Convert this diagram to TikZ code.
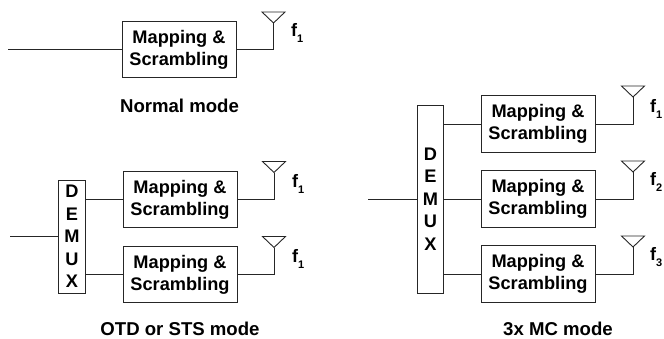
\documentclass[tikz,border=0pt]{standalone}
\usepackage{fontspec}
\setmainfont{Liberation Sans}
\newcommand{\antennaat}[1]{\draw[wire] (#1) -- ++(-11.5,-11) -- ++(23,0) -- cycle;}
\newcommand{\fsub}[1]{f\raisebox{-6pt}{\fontsize{11}{11}\selectfont #1}}
\begin{document}
\begin{tikzpicture}[x=1pt,y=-1pt,
  wire/.style={draw=black!85,line width=0.9pt},
  mapbox/.style={draw=black!85,line width=1pt,fill=white,minimum width=114pt,minimum height=56.5pt,inner sep=0pt,align=center,font=\fontsize{18.2}{22}\selectfont\bfseries},
  demuxbox/.style={draw=black!85,line width=1pt,fill=white,minimum width=26.5pt,inner sep=0pt,align=center,font=\fontsize{18.2}{22.4}\selectfont\bfseries},
  caption/.style={inner sep=0pt,font=\fontsize{18.6}{20}\selectfont\bfseries},
  freq/.style={inner sep=0pt,anchor=base west,font=\fontsize{18}{20}\selectfont\bfseries}]
\useasboundingbox (0,0) rectangle (664,338);

% Normal mode
\node[mapbox] (n1) at (179,49.5) {Mapping \&\\Scrambling};
\coordinate (nin) at (8,49.5);
\coordinate (na) at (273.5,23);
\draw[wire] (nin) -- (n1.west);
\draw[wire] (n1.east) -| (na);
\antennaat{na}
\node[freq] (nf) at (291,36) {\fsub{1}};
\node[caption] (ncap) at (179.5,106) {Normal mode};

% OTD or STS mode
\node[demuxbox,minimum height=113pt] (od) at (72,236.5) {D\\E\\M\\U\\X};
\node[mapbox] (o1) at (180,199.5) {Mapping \&\\Scrambling};
\node[mapbox] (o2) at (180,274.5) {Mapping \&\\Scrambling};
\coordinate (oin) at (10,236.5);
\coordinate (oa1) at (274,172.5);
\coordinate (oa2) at (274,247.5);
\draw[wire] (oin) -- (od.west);
\draw[wire] (o1.west) -- (o1.west -| od.east);
\draw[wire] (o2.west) -- (o2.west -| od.east);
\draw[wire] (o1.east) -| (oa1);
\draw[wire] (o2.east) -| (oa2);
\antennaat{oa1}
\antennaat{oa2}
\node[freq] (of1) at (292,187) {\fsub{1}};
\node[freq] (of2) at (292,262) {\fsub{1}};
\node[caption] (ocap) at (180,328.5) {OTD or STS mode};

% 3x MC mode
\node[demuxbox,minimum height=188pt] (md) at (430.5,199) {D\\E\\M\\U\\X};
\node[mapbox] (m1) at (538,124) {Mapping \&\\Scrambling};
\node[mapbox] (m2) at (538,199) {Mapping \&\\Scrambling};
\node[mapbox] (m3) at (538,274) {Mapping \&\\Scrambling};
\coordinate (min) at (368,199);
\coordinate (ma1) at (633,97);
\coordinate (ma2) at (633,172);
\coordinate (ma3) at (633,247);
\draw[wire] (min) -- (md.west);
\draw[wire] (m1.west) -- (m1.west -| md.east);
\draw[wire] (m2.west) -- (m2.west -| md.east);
\draw[wire] (m3.west) -- (m3.west -| md.east);
\draw[wire] (m1.east) -| (ma1);
\draw[wire] (m2.east) -| (ma2);
\draw[wire] (m3.east) -| (ma3);
\antennaat{ma1}
\antennaat{ma2}
\antennaat{ma3}
\node[freq] (mf1) at (650,112) {\fsub{1}};
\node[freq] (mf2) at (650,185) {\fsub{2}};
\node[freq] (mf3) at (650,260) {\fsub{3}};
\node[caption] (mcap) at (558,328.5) {3x MC mode};
\end{tikzpicture}
\end{document}
